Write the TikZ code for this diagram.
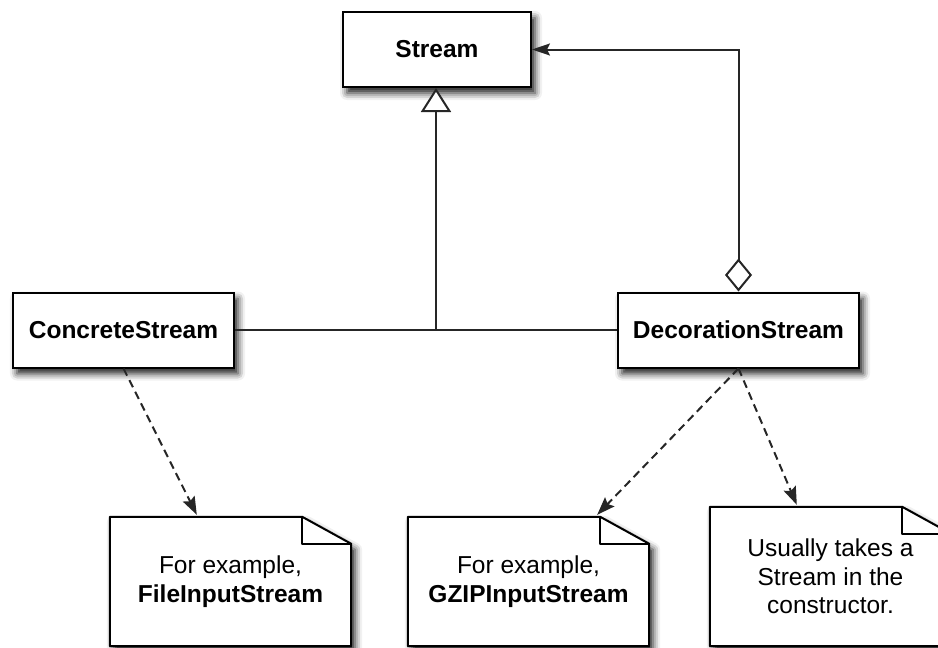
\documentclass[tikz,border=0pt]{standalone}
\usepackage{fontspec}
\setmainfont{Liberation Sans}
\usetikzlibrary{arrows.meta,shadows.blur,calc,backgrounds}

\begin{document}
\begin{tikzpicture}[x=1pt,y=-1pt,
  softshadow/.style={blur shadow={shadow xshift=4pt,shadow yshift=-6pt,shadow blur radius=7pt,shadow opacity=90}},
  cls/.style={draw=black, line width=2pt, fill=white, minimum width=#1, minimum height=75pt,
    inner sep=0pt, font=\fontsize{24.5}{28}\selectfont\bfseries, softshadow},
  notebox/.style={minimum width=241pt, minimum height=#1, inner sep=0pt, align=center,
    font=\fontsize{24.5}{28.5}\selectfont},
  noteline/.style={draw=black, line width=2pt, line join=round},
  link/.style={draw=black!85, line width=2pt},
  dep/.style={draw=black!85, line width=2pt, dash pattern=on 8pt off 5pt,
    -{Stealth[length=18pt,width=13pt,inset=3pt]}},
]
\useasboundingbox (0,0) rectangle (938,648);

% classes
\node[cls=188pt] (stream) at (437,49.5) {Stream};
\node[cls=221pt] (cs) at (123.5,330) {ConcreteStream};
\node[cls=241pt] (ds) at (738.5,330) {DecorationStream};

% notes (text nodes; outlines drawn behind)
\node[notebox=129pt] (n1) at (230.5,581.5) {For example,\\\textbf{FileInputStream}};
\node[notebox=129pt] (n2) at (528.5,581.5) {For example,\\\textbf{GZIPInputStream}};
\node[notebox=139pt] (n3) at (830.5,576.5) {Usually takes a\\Stream in the\\constructor.};

\begin{scope}[on background layer]
  \foreach \n in {n1,n2,n3}{
    \path[noteline, fill=white, softshadow]
      (\n.north west) -- ($(\n.north east)+(-49,0)$) -- ($(\n.north east)+(0,27)$)
      -- (\n.south east) -- (\n.south west) -- cycle;
    \draw[noteline] ($(\n.north east)+(-49,0)$) -- ($(\n.north east)+(-49,27)$)
      -- ($(\n.north east)+(0,27)$);
  }
\end{scope}

% generalization
\coordinate (j) at (436,330);
\draw[link] (cs.east) -- (ds.west);
\draw[link, -{Triangle[open,fill=white,length=24pt,width=30pt]}] (j) -- (j |- stream.south);

% aggregation
\draw[link, {Diamond[open,fill=white,length=33pt,width=27pt]}-{Stealth[length=18pt,width=12pt,inset=3pt]}]
  (ds.north) |- (stream.east);

% dependencies to notes
\draw[dep] (cs.south) -- ($(n1.north west)+(87,-2)$);
\draw[dep] (ds.south) -- ($(n2.north east)+(-52,-2)$);
\draw[dep] (ds.south) -- ($(n3.north west)+(87,-2)$);
\end{tikzpicture}
\end{document}
